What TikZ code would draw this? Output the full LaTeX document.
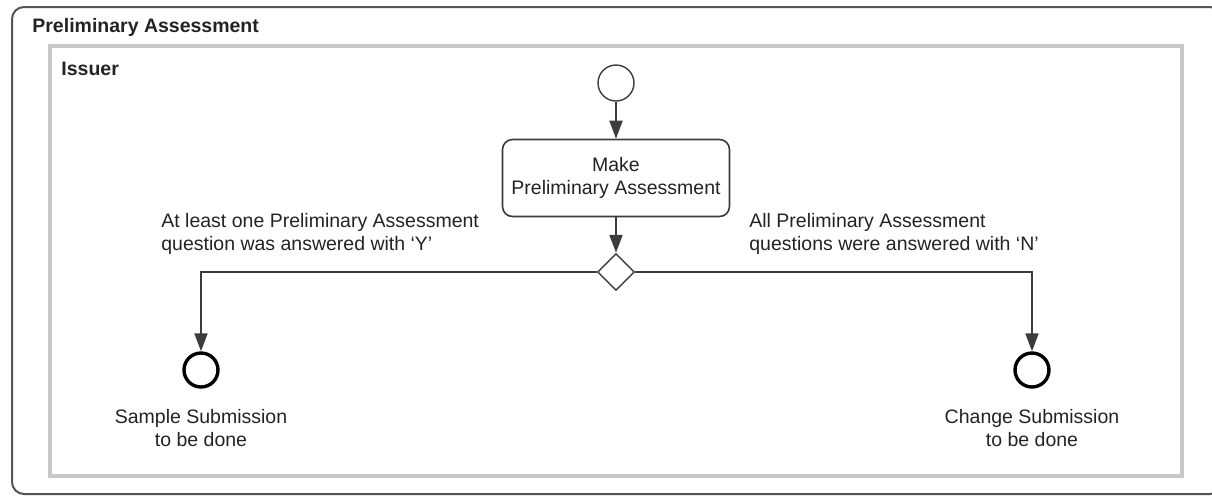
\documentclass[tikz,border=0pt]{standalone}
\usepackage{fontspec}
\setmainfont{Liberation Sans}
\usetikzlibrary{positioning,arrows.meta,shapes.geometric}

\definecolor{framegray}{RGB}{85,85,85}
\definecolor{lanegray}{RGB}{200,200,200}
\definecolor{linegray}{RGB}{60,60,60}
\definecolor{textgray}{RGB}{35,35,35}

\begin{document}
\begin{tikzpicture}[x=0.5pt,y=-0.5pt,
    every node/.style={font=\fontsize{9.75}{11.5}\selectfont,text=textgray},
    flow/.style={draw=linegray,line width=1pt,-{Triangle[length=9pt,width=6.5pt]}},
    startstate/.style={circle,draw=linegray,line width=0.7pt,fill=white,minimum size=18pt,inner sep=0pt},
    endstate/.style={circle,draw=black,line width=1.7pt,fill=white,minimum size=17pt,inner sep=0pt},
    activity/.style={rectangle,rounded corners=5pt,draw=linegray,line width=0.8pt,fill=white,
      minimum width=113.5pt,minimum height=38.5pt,align=center,inner sep=0pt},
    decision/.style={diamond,draw=linegray,line width=0.7pt,fill=white,aspect=1,
      minimum size=18.5pt,inner sep=0pt},
    guard/.style={align=left,inner sep=0pt,anchor=north west},
    statelabel/.style={align=center,inner sep=0pt}]

    \useasboundingbox (0,0) rectangle (1212,495);

    % frames
    \draw[framegray,line width=1pt,rounded corners=6pt] (12,7) rectangle (1222,494);
    \draw[lanegray,line width=2pt] (50,46) rectangle (1182,476);
    \node (frametitle) at (32,18) [anchor=north west,inner sep=0pt] {\bfseries Preliminary Assessment};
    \node (lanetitle) at (61,62) [anchor=north west,inner sep=0pt] {\bfseries Issuer};

    % states
    \node (start) at (616,83) [startstate] {};
    \node (assess) at (616,178) [activity] {Make\\Preliminary Assessment};
    \node (choice) at (616,272) [decision] {};
    \node (sampleend) at (201,370) [endstate] {};
    \node (changeend) at (1032,370) [endstate] {};

    % flows
    \draw[flow] (start) -- (assess);
    \draw[flow] (assess) -- (choice);
    \draw[flow] (choice.west) -| (sampleend);
    \draw[flow] (choice.east) -| (changeend);

    % guards and labels
    \node (yesguard) at (161,213) [guard] {At least one Preliminary Assessment\\question was answered with `Y'};
    \node (noguard) at (749,213) [guard] {All Preliminary Assessment\\questions were answered with `N'};
    \node (samplelabel) [statelabel,below=10pt of sampleend] {Sample Submission\\to be done};
    \node (changelabel) [statelabel,below=10pt of changeend] {Change Submission\\to be done};

\end{tikzpicture}
\end{document}
